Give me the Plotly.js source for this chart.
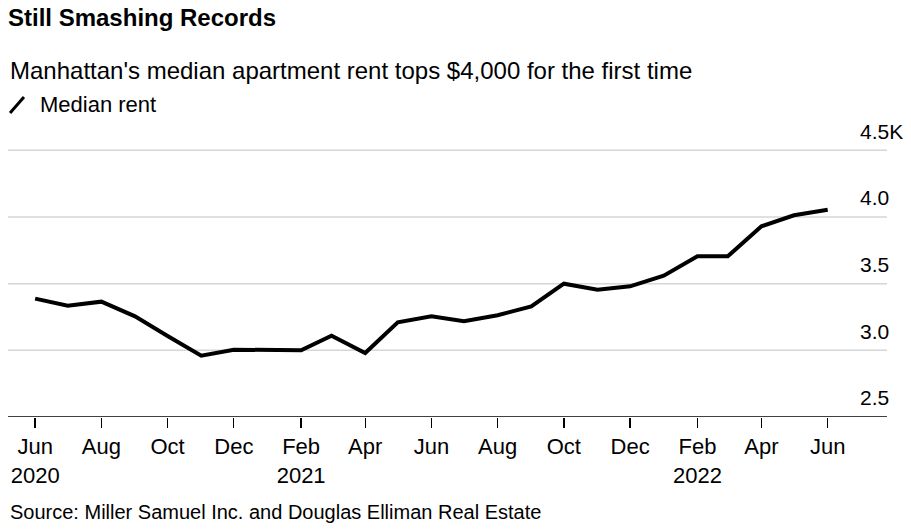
<!DOCTYPE html>
<html>
<head>
<meta charset="utf-8">
<script src="https://cdn.plot.ly/plotly-3.0.1.min.js"></script>
<style>html,body{margin:0;padding:0;background:#fff;}#chart{width:911px;height:529px;}</style>
</head>
<body>
<div id="chart"></div>
<script>
const months = ["2020-06-01","2020-07-01","2020-08-01","2020-09-01","2020-10-01","2020-11-01","2020-12-01",
  "2021-01-01","2021-02-01","2021-03-01","2021-04-01","2021-05-01","2021-06-01","2021-07-01","2021-08-01",
  "2021-09-01","2021-10-01","2021-11-01","2021-12-01","2022-01-01","2022-02-01","2022-03-01","2022-04-01",
  "2022-05-01","2022-06-01"];
const medianRent = [3.388,3.335,3.365,3.255,3.108,2.96,3.005,3.0,3.0,3.11,2.98,3.21,3.255,3.218,3.263,
  3.33,3.50,3.455,3.48,3.56,3.705,3.705,3.93,4.013,4.055];
const xTickVals = ["2020-06-01","2020-08-01","2020-10-01","2020-12-01","2021-02-01","2021-04-01","2021-06-01",
  "2021-08-01","2021-10-01","2021-12-01","2022-02-01","2022-04-01","2022-06-01"];
const xTickText = ["Jun<br>2020","Aug","Oct","Dec","Feb<br>2021","Apr","Jun","Aug","Oct","Dec","Feb<br>2022","Apr","Jun"];
const yTickVals = [2.5,3.0,3.5,4.0,4.5];
const yTickText = ["2.5","3.0","3.5","4.0","4.5K"];

const FONT = "Liberation Sans, Arial, sans-serif";
const gridExt = 1.0353;

const shapes = yTickVals.map(v => ({
  type: "line", xref: "paper", yref: "y", x0: 0, x1: gridExt, y0: v, y1: v,
  line: {color: v === 2.5 ? "#000" : "#d6d6d6", width: 1.5},
  layer: "below"
}));
shapes.push({type:"line", xref:"paper", yref:"paper", x0:0.0024, x1:0.0188, y0:1.063, y1:1.119,
  line:{color:"#000", width:3}});

const trace = {
  x: months, y: medianRent, type: "scatter", mode: "lines", name: "Median rent",
  line: {color: "#000", width: 4}, showlegend: false, hoverinfo: "skip"
};

const layout = {
  width: 911, height: 529,
  margin: {l: 8, r: 54, t: 131, b: 112},
  paper_bgcolor: "#fff", plot_bgcolor: "rgba(0,0,0,0)",
  font: {family: FONT, color: "#000"},
  title: {text: "<b>Still Smashing Records</b>", x: 8/911, xref: "container", xanchor: "left",
    y: 1 - 18/529, yref: "container", yanchor: "middle", font: {family: FONT, size: 24, color: "#000"}},
  xaxis: {
    type: "date", range: ["2020-05-07", "2022-06-28"],
    tickmode: "array", tickvals: xTickVals, ticktext: xTickText,
    showgrid: false, zeroline: false, showline: false,
    ticks: "outside", ticklen: 10, tickwidth: 1.3, tickcolor: "#000",
    tickfont: {family: FONT, size: 22, color: "#000"}, ticklabelstandoff: 0
  },
  yaxis: {
    range: [2.5, 4.645], side: "right",
    tickmode: "array", tickvals: yTickVals, ticktext: yTickText,
    showgrid: false, zeroline: false, showline: false, ticks: "",
    ticklabelshift: -19, ticklabelstandoff: 2,
    tickfont: {family: FONT, size: 21, color: "#000"}
  },
  shapes: shapes,
  annotations: [
    {text: "Manhattan's median apartment rent tops $4,000 for the first time", xref: "paper", yref: "paper",
     x: 0, y: 1.213, xanchor: "left", yanchor: "middle", showarrow: false, font: {family: FONT, size: 24, color: "#000"}},
    {text: "Median rent", xref: "paper", yref: "paper", x: 0.0353, y: 1.091, xanchor: "left", yanchor: "middle",
     showarrow: false, font: {family: FONT, size: 22, color: "#000"}},
    {text: "Source: Miller Samuel Inc. and Douglas Elliman Real Estate", xref: "paper", yref: "paper",
     x: 0, y: -0.332, xanchor: "left", yanchor: "middle", showarrow: false, font: {family: FONT, size: 20, color: "#000"}}
  ]
};

Plotly.newPlot("chart", [trace], layout, {staticPlot: true, displayModeBar: false});
</script>
</body>
</html>
